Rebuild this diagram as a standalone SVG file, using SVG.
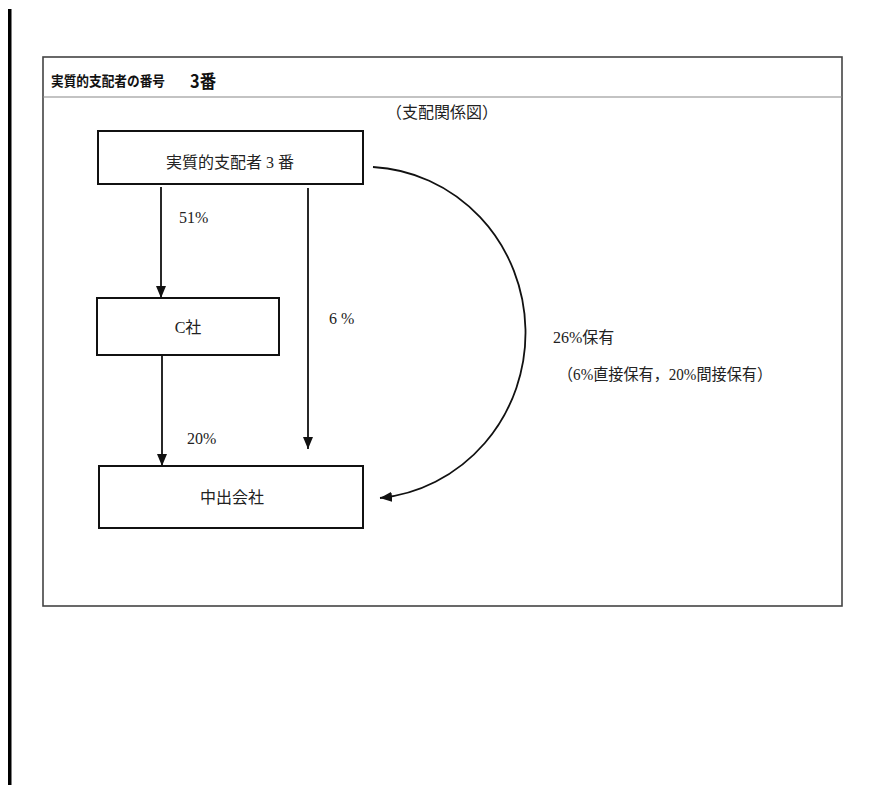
<svg xmlns="http://www.w3.org/2000/svg" width="881" height="785" viewBox="0 0 881 785">
<style>
.t{font-family:"Liberation Serif","Noto Sans CJK JP",serif;font-size:16px;fill:#222}
.h{font-family:"Noto Sans CJK JP","Liberation Sans",sans-serif;font-weight:bold;fill:#111}
.box{fill:#fff;stroke:#111;stroke-width:2}
.ln{fill:none;stroke:#111;stroke-width:1.8}
</style>
<defs>
<marker id="arr" markerUnits="userSpaceOnUse" markerWidth="14" markerHeight="12" refX="12" refY="5" orient="auto">
<path d="M0,0 L12,5 L0,10 z" fill="#111"/>
</marker>
</defs>
<rect x="0" y="0" width="881" height="785" fill="#fff"/>
<rect x="8" y="9" width="3.5" height="776" fill="#000"/>
<g id="frame">
<rect x="43" y="57" width="799" height="549" fill="#fff" stroke="#444" stroke-width="1.6"/>
<line x1="43" y1="97" x2="842" y2="97" stroke="#888" stroke-width="1.2"/>
<text class="h" x="51" y="86" font-size="14" textLength="114" lengthAdjust="spacingAndGlyphs">実質的支配者の番号</text>
<text class="h" x="190" y="88" font-size="18" textLength="26" lengthAdjust="spacingAndGlyphs">3番</text>
<text class="t" x="442" y="118" font-size="14" text-anchor="middle">（支配関係図）</text>
</g>
<g id="connectors">
<line class="ln" x1="161" y1="187" x2="161" y2="298" marker-end="url(#arr)"/>
<line class="ln" x1="308" y1="188" x2="308" y2="449" marker-end="url(#arr)"/>
<line class="ln" x1="162" y1="355" x2="162" y2="466" marker-end="url(#arr)"/>
<path class="ln" d="M373,167 A161,166 0 0 1 380,498" marker-end="url(#arr)"/>
<text class="t" x="179" y="223">51%</text>
<text class="t" x="329" y="324">6 %</text>
<text class="t" x="187" y="444">20%</text>
<text class="t" x="553" y="343">26%保有</text>
<text class="t" x="558" y="380" textLength="214" lengthAdjust="spacingAndGlyphs">（6%直接保有，20%間接保有）</text>
</g>
<g id="node-owner">
<rect class="box" x="98" y="131" width="265" height="53"/>
<text class="t" x="230" y="168" text-anchor="middle">実質的支配者 3 番</text>
</g>
<g id="node-c">
<rect class="box" x="97" y="298" width="182" height="57"/>
<text class="t" x="188" y="333" text-anchor="middle">C社</text>
</g>
<g id="node-target">
<rect class="box" x="99" y="466" width="264" height="62"/>
<text class="t" x="232" y="503" text-anchor="middle">中出会社</text>
</g>
</svg>
